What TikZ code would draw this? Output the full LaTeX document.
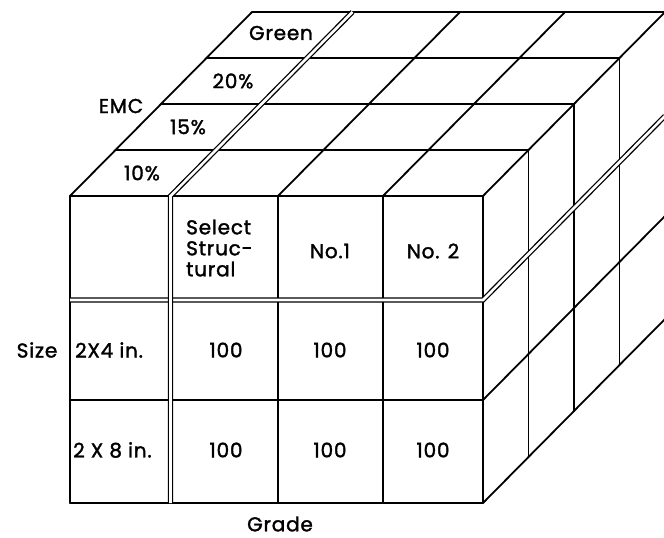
\documentclass[tikz,border=0pt]{standalone}
\usepackage{fontspec}
\setmainfont{Poppins}[FakeBold=1.6, LetterSpace=4]
\begin{document}
\begin{tikzpicture}[x=1pt,y=-1pt,
  edge/.style={line width=1.8pt, line cap=round, line join=miter},
  dbl/.style={double, double distance=2.6pt, line width=1.3pt, line join=miter},
  lbl/.style={font=\fontsize{20}{21}\selectfont, inner sep=0pt}
]
\useasboundingbox (0,0) rectangle (664,538);

% front face of the block
\foreach \x in {70,278,383,483}
  \draw[edge] (\x,196) -- (\x,503);
\foreach \y in {196,400,503}
  \draw[edge] (70,\y) -- (483,\y);

% top face: one strip per moisture level
\foreach \k in {1,2,3,4}
  \draw[edge] ({70+45.5*\k},{196-46*\k}) -- ({483+45.5*\k},{196-46*\k});
\foreach \x in {70,278,383,483}
  \draw[edge] (\x,196) -- ++(182,-184);

% right face
\foreach \k in {1,2,3,4}
  \draw[edge] ({483+45.5*\k},{196-46*\k}) -- ++(0,307);
\foreach \y in {400,503}
  \draw[edge] (483,\y) -- ++(182,-184);

% double rules separating the headings
\draw[dbl] (70,300) -- (483,300) -- ++(182,-184);
\draw[dbl] (170.5,503) -- (170.5,196) -- ++(182,-184);

% moisture levels
\node[lbl] (green) at (281,33) {Green};
\node[lbl] (p20) at (233,81) {20\%};
\node[lbl] (p15) at (188,127) {15\%};
\node[lbl] (p10) at (142,173) {10\%};
\node[lbl] (emc) at (121,106) {EMC};

% grades
\node[lbl, align=left, anchor=west] (sel) at (186,248) {Select\\Struc-\\tural};
\node[lbl] (no1) at (330,251) {No.1};
\node[lbl] (no2) at (433,251) {No. 2};

% sizes
\node[lbl] (size) at (37,350) {Size};
\node[lbl, anchor=west] (s24) at (75,350) {2X4 in.};
\node[lbl, anchor=west] (s28) at (73,450) {2 X 8 in.};

% values
\foreach \x/\n in {226/a,330/b,433/c} {
  \node[lbl] (v1\n) at (\x,350) {100};
  \node[lbl] (v2\n) at (\x,450) {100};
}

\node[lbl] (grade) at (280,524) {Grade};
\end{tikzpicture}
\end{document}
